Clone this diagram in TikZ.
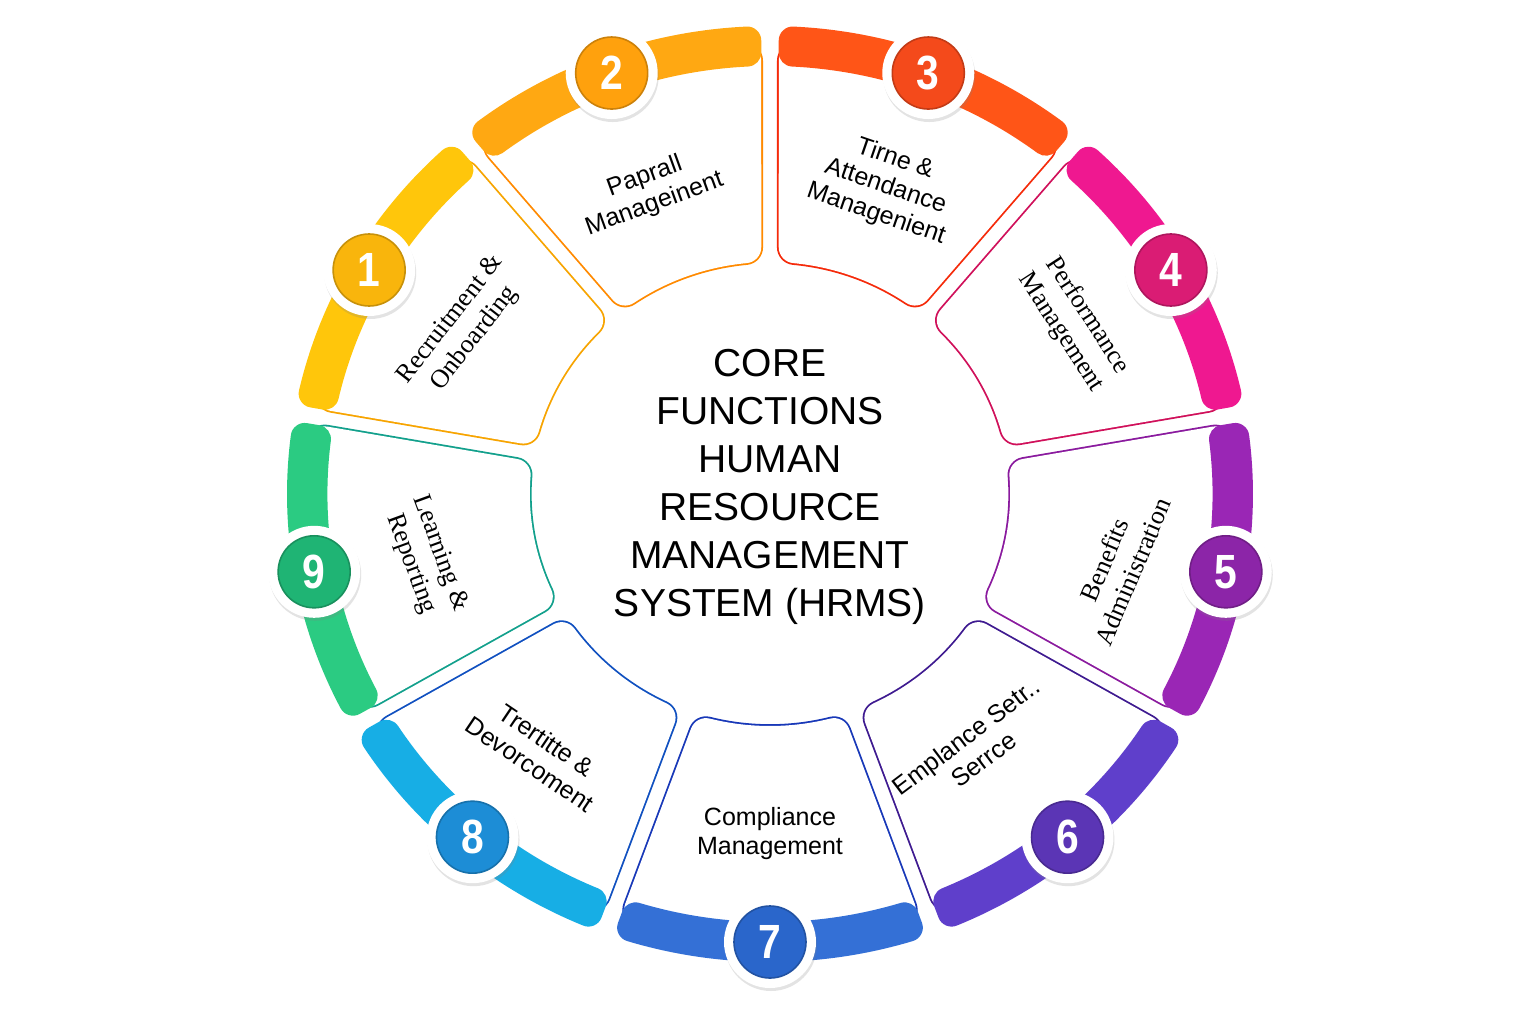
\documentclass[tikz,border=0pt]{standalone}
\usepackage{fontspec}
\setmainfont{Liberation Sans}
\newfontfamily\garbfont{Liberation Serif}
\newfontfamily\numfont[FakeStretch=0.85]{Liberation Sans}
\usetikzlibrary{shadows,calc}
\definecolor{band1}{HTML}{FFC60B}\definecolor{line1}{HTML}{F7A400}\definecolor{badge1}{HTML}{F9B50C}
\definecolor{band2}{HTML}{FFA812}\definecolor{line2}{HTML}{FF8A00}\definecolor{badge2}{HTML}{FFA10D}
\definecolor{band3}{HTML}{FF5517}\definecolor{line3}{HTML}{F52A0A}\definecolor{badge3}{HTML}{F44A1B}
\definecolor{band4}{HTML}{EF1890}\definecolor{line4}{HTML}{D0105A}\definecolor{badge4}{HTML}{DA1C74}
\definecolor{band5}{HTML}{9A26B5}\definecolor{line5}{HTML}{8A1A9E}\definecolor{badge5}{HTML}{8C25A8}
\definecolor{band6}{HTML}{5F3FCB}\definecolor{line6}{HTML}{3E1A90}\definecolor{badge6}{HTML}{5B35B5}
\definecolor{band7}{HTML}{3470D6}\definecolor{line7}{HTML}{1838B8}\definecolor{badge7}{HTML}{2A66CB}
\definecolor{band8}{HTML}{17AEE5}\definecolor{line8}{HTML}{1050C0}\definecolor{badge8}{HTML}{1D8DD6}
\definecolor{band9}{HTML}{2BCB82}\definecolor{line9}{HTML}{12A08C}\definecolor{badge9}{HTML}{1FB474}
\begin{document}
\begin{tikzpicture}[x=0.5pt,y=0.5pt,
  cardrim/.style={line width=17.8pt, line join=round},
  cardface/.style={draw=white, fill=white, line width=16pt, line join=round},
  bandshape/.style={line width=14pt, line join=round},
  ring/.style={circle, fill=white, minimum size=46pt, inner sep=0pt,
    drop shadow={shadow xshift=0.5pt, shadow yshift=-1.5pt, opacity=0.22}},
  core/.style={circle, minimum size=36pt, inner sep=0pt, text=white, line width=0.8pt,
    font=\numfont\bfseries\fontsize{24}{24}\selectfont},
  lbl/.style={align=center, font=\fontsize{12.5}{14.5}\selectfont},
  glbl/.style={align=center, font=\garbfont\fontsize{13}{15.5}\selectfont},
  title/.style={align=center, font=\fontsize{19.5}{24}\selectfont}
]
\useasboundingbox (-770,-530) rectangle (766,494);
\fill[white] (-770,-530) rectangle (766,494);
\begin{scope}[xscale=1.033]
  \foreach \n/\t in {1/150,2/110,3/70,4/30,5/-10,6/-50,7/-90,8/-130,9/-170} {
    \path[cardrim, draw=line\n] ({\t-14.46}:248) -- ({\t-16.83}:434)
      arc[start angle=\t-16.83, end angle=\t+16.83, radius=434]
      -- ({\t+14.46}:248) arc[start angle=\t+14.46, end angle=\t-14.46, radius=248] -- cycle;
    \path[cardface] ({\t-14.46}:248) -- ({\t-16.83}:434)
      arc[start angle=\t-16.83, end angle=\t+16.83, radius=434]
      -- ({\t+14.46}:248) arc[start angle=\t+14.46, end angle=\t-14.46, radius=248] -- cycle;
  }
  \foreach \n/\t in {1/150,2/110,3/70,4/30,5/-10,6/-50,7/-90,8/-130,9/-170} {
    \path[bandshape, draw=band\n, fill=band\n] ({\t-17.15}:442) -- ({\t-17.22}:454)
      arc[start angle=\t-17.22, end angle=\t+17.22, radius=454]
      -- ({\t+17.15}:442) arc[start angle=\t+17.15, end angle=\t-17.15, radius=442] -- cycle;
  }
  \foreach \n/\t in {1/150,2/110,3/70,4/30,5/-10,6/-50,7/-90,8/-130,9/-170} {
    \node[ring] (b\n) at (\t:448) {};
    \node[core, fill=badge\n, draw=badge\n!80!black] (n\n) at (b\n.center) {\n};
  }
  \node[glbl, rotate=52] (l1) at (151:340) {Recruitment \&\\Onboarding};
  \node[lbl, rotate=20] (l2) at (111:325) {Paprall\\Manageinent};
  \node[lbl, rotate=-19] (l3) at (70:327) {Tirne \&\\Attendance\\Managenient};
  \node[glbl, rotate=-57] (l4) at (30:340) {Performance\\Management};
  \node[glbl, rotate=67] (l5) at (-12:345) {Benefits\\Administration};
  \node[lbl, rotate=37] (l6) at (-52:322) {Emplance Setr..\\Serrce};
  \node[lbl] (l7) at (-90:340) {Compliance\\Management};
  \node[lbl, rotate=-34] (l8) at (-131:342) {Trertitte \&\\Devorcoment};
  \node[glbl, rotate=-70] (l9) at (-169:340) {Learning \&\\Reporting};
\end{scope}
\node[title] (ttl) at (0,7) {CORE\\FUNCTIONS\\HUMAN\\RESOURCE\\MANAGEMENT\\SYSTEM (HRMS)};
\end{tikzpicture}
\end{document}
